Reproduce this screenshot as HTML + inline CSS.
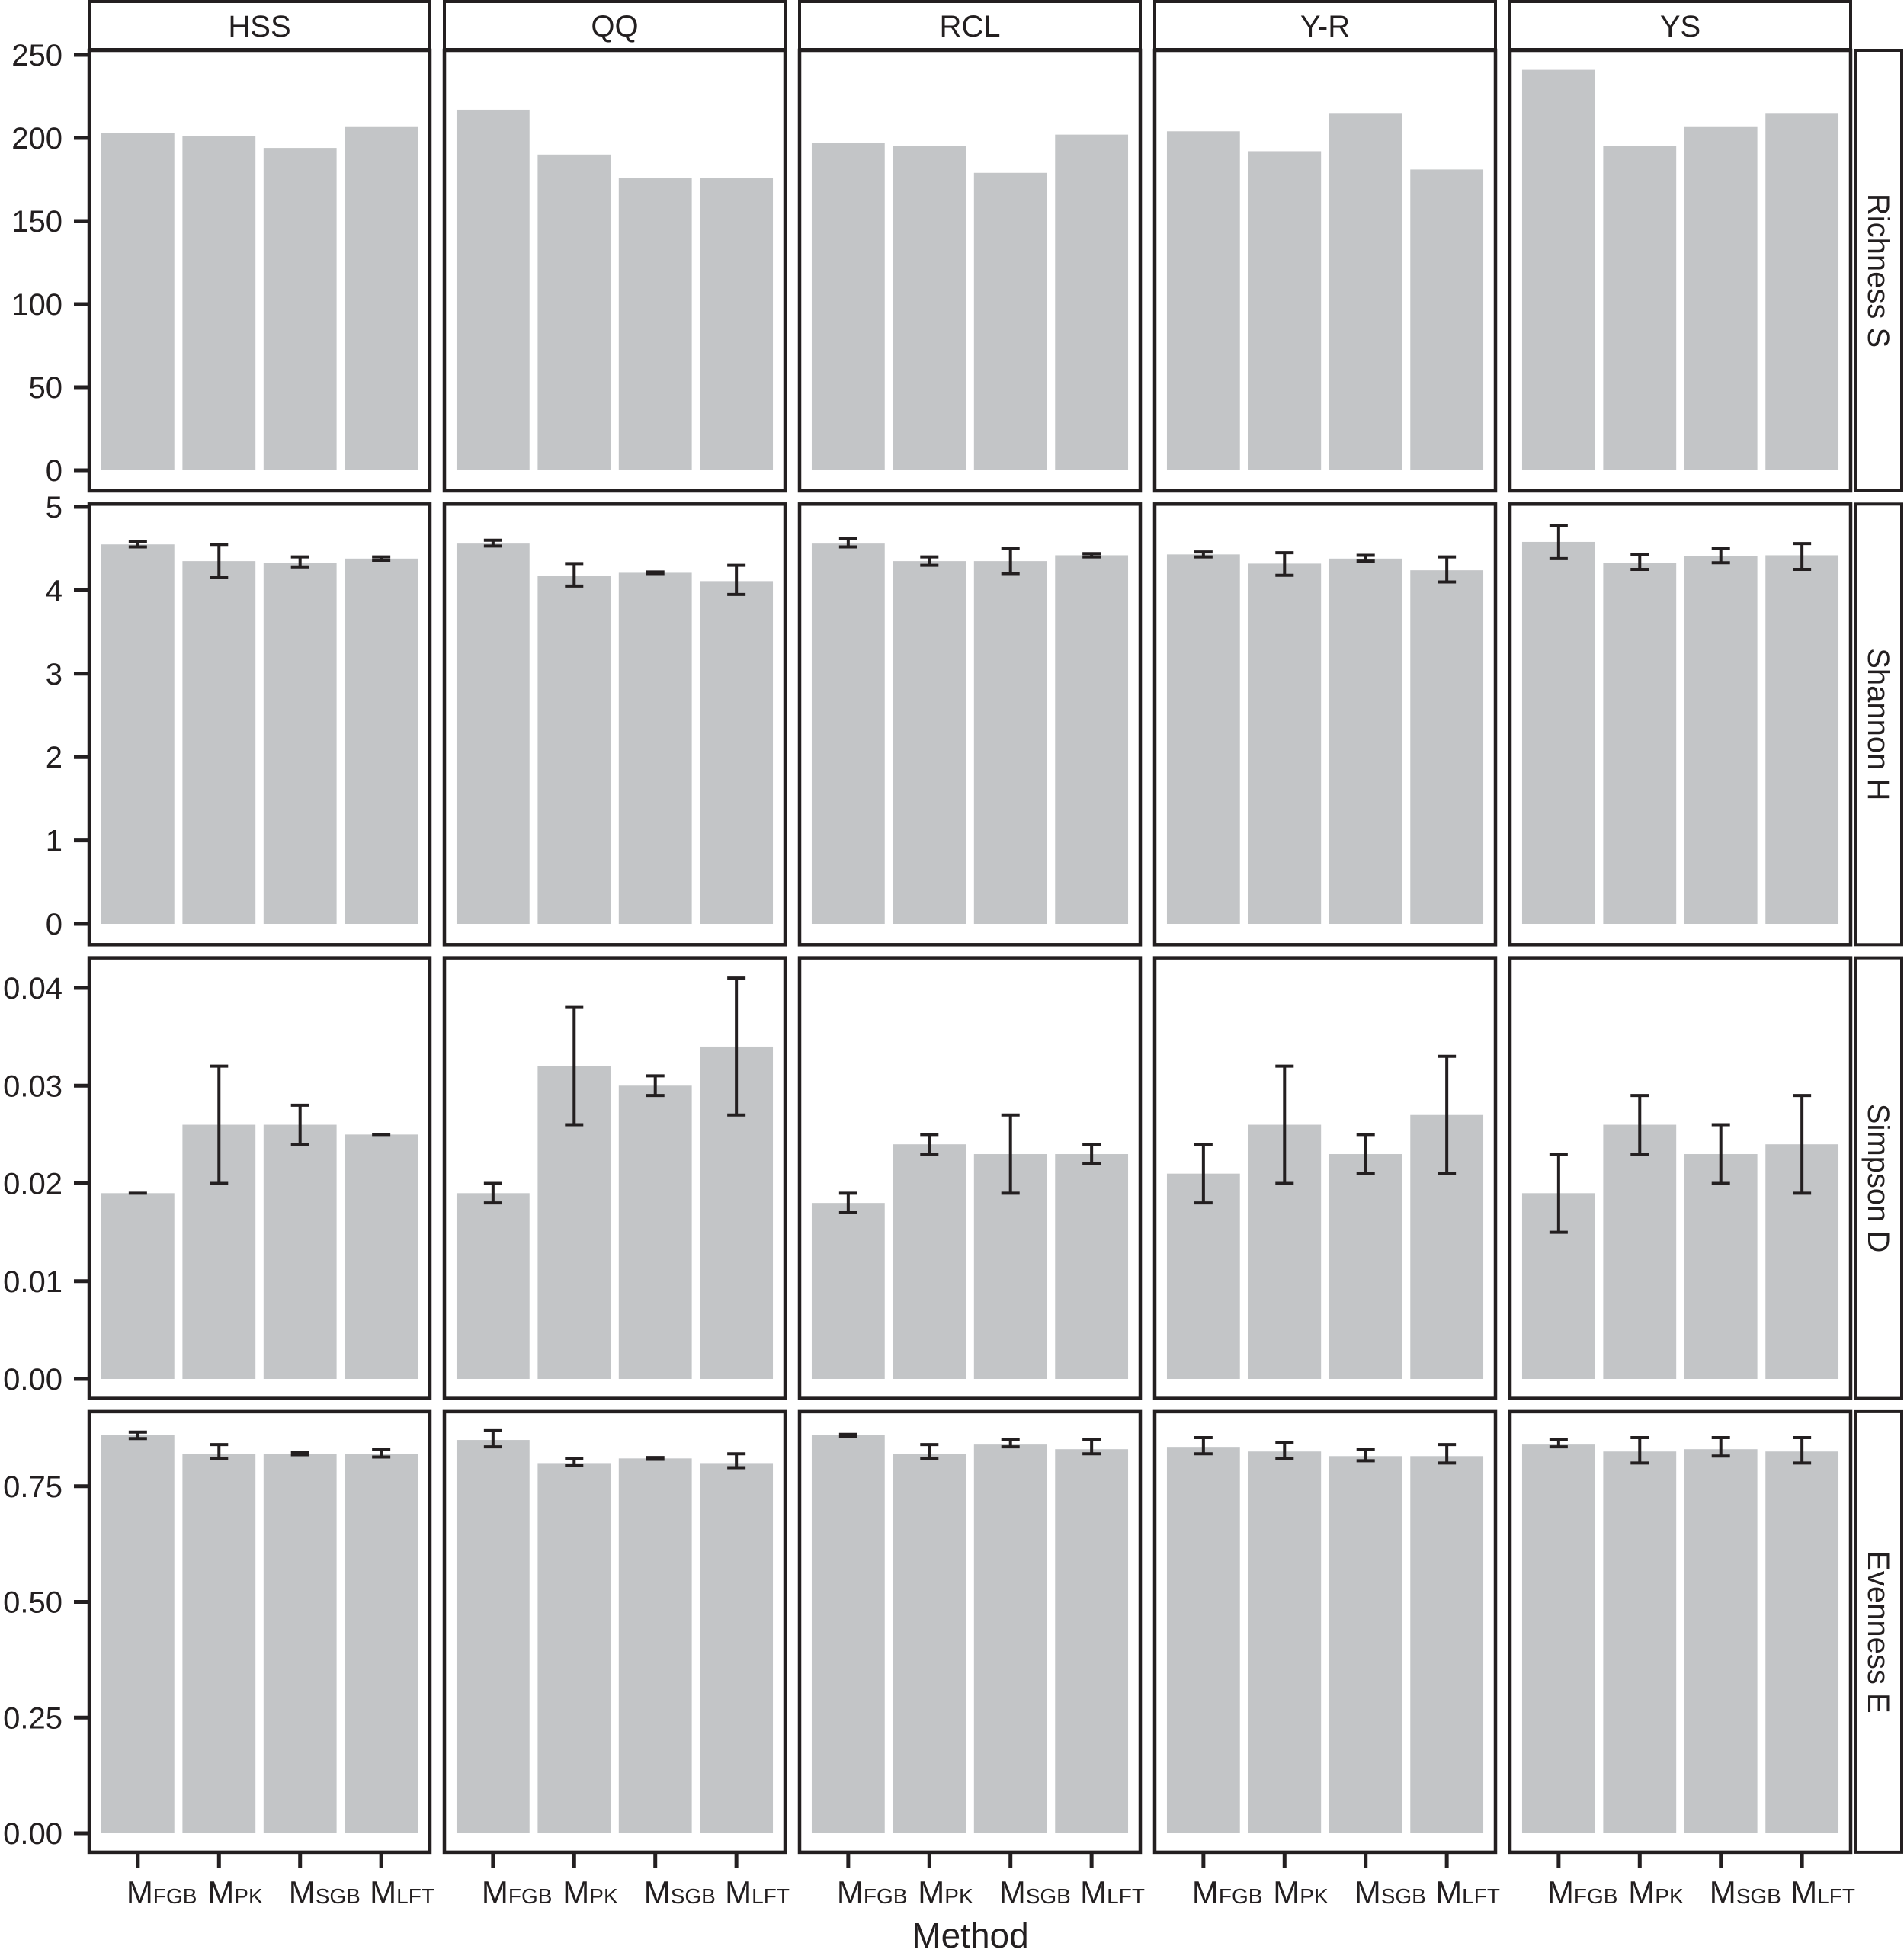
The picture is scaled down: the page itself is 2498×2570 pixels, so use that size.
<!DOCTYPE html>
<html><head><meta charset="utf-8">
<style>
html,body{margin:0;padding:0;background:#fff;}
svg{display:block;font-family:"Liberation Sans",Arial,sans-serif;}
</style></head>
<body>
<svg id="chart" width="2498" height="2570" viewBox="0 0 2498 2570" xmlns="http://www.w3.org/2000/svg"></svg>
<script>
const sites = ["HSS","QQ","RCL","Y-R","YS"];
const methods = ["FGB","PK","SGB","LFT"];
const metrics = ["Richness S","Shannon H","Simpson D","Evenness E"];
const richness = [[203,201,194,207],[217,190,176,176],[197,195,179,202],[204,192,215,181],[241,195,207,215]];
const shannon = [[4.55,4.35,4.33,4.38],[4.56,4.17,4.21,4.11],[4.56,4.35,4.35,4.42],[4.43,4.32,4.38,4.24],[4.58,4.33,4.41,4.42]];
const shannonLo = [[4.52,4.15,4.28,4.36],[4.53,4.05,4.20,3.95],[4.52,4.30,4.20,4.40],[4.40,4.18,4.35,4.10],[4.38,4.25,4.33,4.25]];
const shannonHi = [[4.58,4.55,4.40,4.40],[4.60,4.32,4.22,4.30],[4.62,4.40,4.50,4.44],[4.46,4.45,4.42,4.40],[4.78,4.43,4.50,4.56]];
const simpson = [[0.019,0.026,0.026,0.025],[0.019,0.032,0.030,0.034],[0.018,0.024,0.023,0.023],[0.021,0.026,0.023,0.027],[0.019,0.026,0.023,0.024]];
const simpsonLo = [[0.019,0.020,0.024,0.025],[0.018,0.026,0.029,0.027],[0.017,0.023,0.019,0.022],[0.018,0.020,0.021,0.021],[0.015,0.023,0.020,0.019]];
const simpsonHi = [[0.019,0.032,0.028,0.025],[0.020,0.038,0.031,0.041],[0.019,0.025,0.027,0.024],[0.024,0.032,0.025,0.033],[0.023,0.029,0.026,0.029]];
const evenness = [[0.86,0.82,0.82,0.82],[0.85,0.80,0.81,0.80],[0.86,0.82,0.84,0.83],[0.835,0.825,0.815,0.815],[0.84,0.825,0.83,0.825]];
const evennessLo = [[0.853,0.81,0.818,0.813],[0.835,0.795,0.808,0.79],[0.858,0.81,0.835,0.82],[0.82,0.81,0.805,0.80],[0.835,0.80,0.815,0.80]];
const evennessHi = [[0.867,0.84,0.822,0.83],[0.87,0.81,0.812,0.82],[0.862,0.84,0.85,0.85],[0.855,0.845,0.83,0.84],[0.85,0.855,0.855,0.855]];
const richTicks = [0,50,100,150,200,250];
const richLabels = ["0","50","100","150","200","250"];
const shanTicks = [0,1,2,3,4,5];
const shanLabels = ["0","1","2","3","4","5"];
const simpTicks = [0,0.01,0.02,0.03,0.04];
const simpLabels = ["0.00","0.01","0.02","0.03","0.04"];
const evenTicks = [0,0.25,0.5,0.75];
const evenLabels = ["0.00","0.25","0.50","0.75"];

const rowsData = [
  {vals:richness, lo:null, hi:null, ticks:richTicks, labels:richLabels, y0:617, ppu:2.18},
  {vals:shannon, lo:shannonLo, hi:shannonHi, ticks:shanTicks, labels:shanLabels, y0:1212, ppu:109.4},
  {vals:simpson, lo:simpsonLo, hi:simpsonHi, ticks:simpTicks, labels:simpLabels, y0:1809, ppu:12825},
  {vals:evenness, lo:evennessLo, hi:evennessHi, ticks:evenTicks, labels:evenLabels, y0:2405, ppu:607}
];
const NS = "http://www.w3.org/2000/svg";
const svg = document.getElementById("chart");
const DARK = "#231f20", BAR = "#c3c5c7";
const colLeft = i => 117 + 466*i;
const PW = 447;
const rowTop = j => 66 + 595.3*j;
const PH = 578;
function xCenter(i,k){ return colLeft(i) + (k+0.6)*PW/4.2; }
function yPos(j,v){ return rowsData[j].y0 - v*rowsData[j].ppu; }
function mk(tag, attrs){ const e=document.createElementNS(NS,tag); for(const a in attrs) e.setAttribute(a,attrs[a]); svg.appendChild(e); return e; }

sites.forEach((s,i)=>{
  const r = mk("rect",{x:colLeft(i),y:2,width:PW,height:63,fill:"#fff",stroke:DARK,"stroke-width":4});
  
  
  const t = mk("text",{x:colLeft(i)+PW/2,y:48,"font-size":40,"text-anchor":"middle",fill:DARK});
  t.textContent = s;
  
  
});
metrics.forEach((m,j)=>{
  const r = mk("rect",{x:2434,y:rowTop(j),width:61,height:PH,fill:"#fff",stroke:DARK,"stroke-width":4});
  
  
  const cx=2464, cy=rowTop(j)+PH/2;
  const t = mk("text",{x:cx,y:cy,"font-size":40,"text-anchor":"middle","dominant-baseline":"central",fill:DARK,transform:`rotate(90 ${cx} ${cy})`});
  t.textContent = m;
  
  
});
rowsData.forEach((rd,j)=>{
  rd.ticks.forEach((tv,ti)=>{
    const y = yPos(j,tv);
    const l = mk("line",{x1:97,x2:117,y1:y,y2:y,stroke:DARK,"stroke-width":5});
    
    
    const t = mk("text",{x:82,y:y+14,"font-size":40,"text-anchor":"end",fill:DARK});
    t.textContent = rd.labels[ti];
    
    
  });
  sites.forEach((s,i)=>{
    const p = mk("rect",{x:colLeft(i),y:rowTop(j),width:PW,height:PH,fill:"#fff",stroke:DARK,"stroke-width":4.5});
    
    
    methods.forEach((m,k)=>{
      const v = rd.vals[i][k];
      const cx = xCenter(i,k), bw = 0.9*PW/4.2;
      const yt = yPos(j,v), yb = yPos(j,0);
      const b = mk("rect",{x:cx-bw/2,y:yt,width:bw,height:yb-yt,fill:BAR});
      
      
      if(rd.lo){
        const y1=yPos(j,rd.lo[i][k]), y2=yPos(j,rd.hi[i][k]);
        const g = mk("path",{d:`M${cx-12},${y1}H${cx+12}M${cx},${y1}V${y2}M${cx-12},${y2}H${cx+12}`,stroke:DARK,"stroke-width":4,fill:"none"});
        
        
      }
    });
  });
});
sites.forEach((s,i)=>{
  methods.forEach((m,k)=>{
    const cx = xCenter(i,k);
    const l = mk("line",{x1:cx,x2:cx,y1:2431,y2:2451,stroke:DARK,"stroke-width":5});
    
    
    const t = mk("text",{x:cx-15,y:2497,"font-size":42,fill:DARK});
    
    
    const a = document.createElementNS(NS,"tspan"); a.textContent="M"; t.appendChild(a);
    const b = document.createElementNS(NS,"tspan"); b.setAttribute("font-size","28"); b.textContent=m; t.appendChild(b);
  });
});
const xt = mk("text",{x:1273,y:2555,"font-size":46,"text-anchor":"middle",fill:DARK});
xt.textContent = "Method";


</script>
</body></html>
